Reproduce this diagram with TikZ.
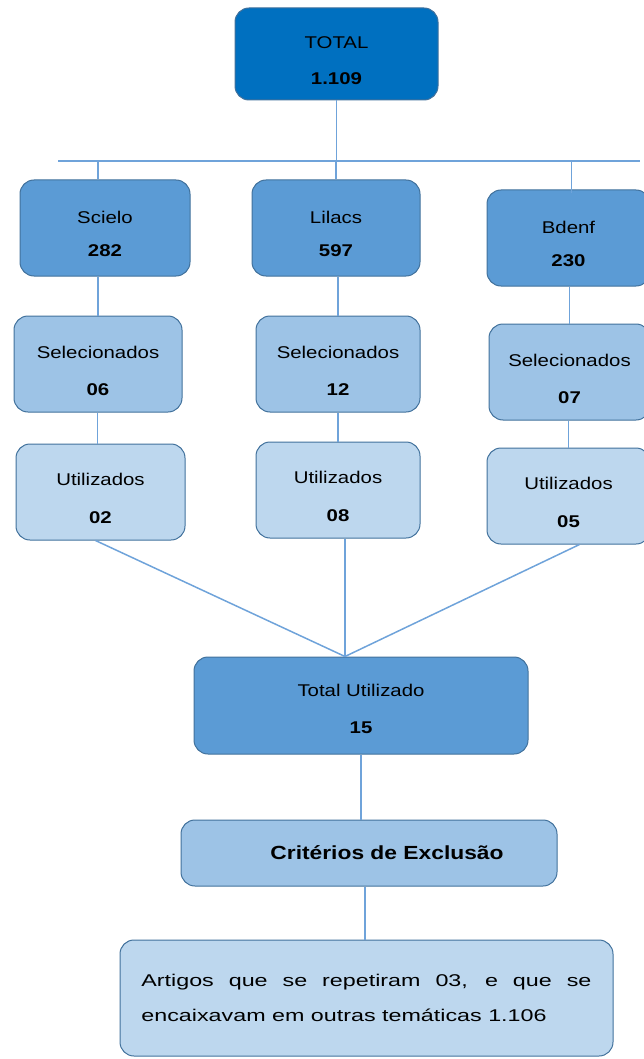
\documentclass[tikz,border=0pt]{standalone}
\usepackage{fontspec}
\setmainfont{Liberation Sans}[FakeStretch=1.2]
\newfontfamily\widefont{Liberation Sans}[FakeStretch=1.37]
\usetikzlibrary{positioning}
\definecolor{topblue}{HTML}{0070C0}
\definecolor{midblue}{HTML}{5B9BD5}
\definecolor{paleblue}{HTML}{9DC3E6}
\definecolor{lightblue}{HTML}{BDD7EE}
\definecolor{boxline}{HTML}{41719C}
\definecolor{linkblue}{HTML}{6FA3DA}
\tikzset{
mybox/.style={
  draw=boxline,
  line width=1pt,
  rounded corners=14pt,
  align=center,
  inner sep=0pt,
  font=\fontsize{17}{19}\selectfont
  },
  bsize/.style 2 args={minimum width=#1, minimum height=#2},
  link/.style={draw=linkblue, line width=1.5pt}
}

\begin{document}
\begin{tikzpicture}[x=1pt,y=-1pt]
\useasboundingbox (0,0) rectangle (643,1059);

% top level
\node[mybox,fill=topblue,bsize={203pt}{92pt}] (total) at (336.5,54)
  {\rule{0pt}{26pt}TOTAL\\[17pt]\textbf{1.109}};

% databases
\node[mybox,fill=midblue,bsize={170pt}{96pt}] (src1) at (105,228)
  {\rule{0pt}{25pt}Scielo\\[14pt]\textbf{282}};
\node[mybox,fill=midblue,bsize={168pt}{96pt}] (src2) at (336,228)
  {\rule{0pt}{25pt}Lilacs\\[14pt]\textbf{597}};
\node[mybox,fill=midblue,bsize={163pt}{96pt}] (src3) at (568.5,238)
  {\rule{0pt}{25pt}Bdenf\\[14pt]\textbf{230}};

\node[mybox,fill=paleblue,bsize={168pt}{96pt}] (sel1) at (98,364)
  {\rule{0pt}{26.5pt}Selecionados\\[18pt]\textbf{06}};
\node[mybox,fill=paleblue,bsize={164pt}{96pt}] (sel2) at (338,364)
  {\rule{0pt}{26.5pt}Selecionados\\[18pt]\textbf{12}};
\node[mybox,fill=paleblue,bsize={161pt}{96pt}] (sel3) at (569.5,372)
  {\rule{0pt}{26.5pt}Selecionados\\[18pt]\textbf{07}};

\node[mybox,fill=lightblue,bsize={169pt}{96pt}] (util1) at (100.5,492)
  {\rule{0pt}{25pt}Utilizados\\[19pt]\textbf{02}};
\node[mybox,fill=lightblue,bsize={164pt}{96pt}] (util2) at (338,490)
  {\rule{0pt}{25pt}Utilizados\\[19pt]\textbf{08}};
\node[mybox,fill=lightblue,bsize={163pt}{96pt}] (util3) at (568.5,496)
  {\rule{0pt}{25pt}Utilizados\\[19pt]\textbf{05}};

% bottom part
\node[mybox,fill=midblue,bsize={334pt}{97pt}] (sum) at (361,705.5)
  {\rule{0pt}{19pt}Total Utilizado\\[18pt]\textbf{15}};
\node[mybox,fill=paleblue,bsize={376pt}{66pt},
  font=\fontsize{19}{21}\selectfont\bfseries] (crit) at (369,853)
  {\hspace*{36pt}Critérios de Exclusão};
\node[mybox,fill=lightblue,bsize={493pt}{116pt},align=left,
  font=\widefont\fontsize{17}{35}\selectfont] (excl) at (366.5,998)
  {\makebox[450pt][s]{Artigos que se repetiram 03, e que se}\\
   encaixavam em outras temáticas 1.106\hspace*{45pt}};

% connectors
\coordinate (busL) at (58,161);
\coordinate (busR) at (640,161);
\coordinate (meet) at ([xshift=-16pt]sum.north);

\draw[link] (busL) -- (busR);
\draw[link] (total.south) -- (total.south |- busL);
\draw[link] ([xshift=-7pt]src1.north) -- ([xshift=-7pt]src1.north |- busL);
\draw[link] (src2.north) -- (src2.north |- busL);
\draw[link] ([xshift=3pt,yshift=-4pt]src3.north) -- ([xshift=3pt]src3.north |- busL);

\draw[link] (sel1.north) -- (sel1.north |- src1.south);
\draw[link] (sel2.north) -- (sel2.north |- src2.south);
\draw[link] (sel3.north) -- (sel3.north |- src3.south);

\draw[link] ([xshift=-3pt]util1.north) -- ([xshift=-3pt]util1.north |- sel1.south);
\draw[link] (util2.north) -- (util2.north |- sel2.south);
\draw[link] (util3.north) -- (util3.north |- sel3.south);

\draw[link] ([xshift=-5pt]util1.south) -- (meet);
\draw[link] ([xshift=7pt]util2.south) -- (meet);
\draw[link] ([xshift=11pt]util3.south) -- (meet);

\draw[link] (sum.south) -- (sum.south |- crit.north);
\draw[link] ([xshift=-4pt]crit.south) -- ([xshift=-4pt]crit.south |- excl.north);

\end{tikzpicture}
\end{document}
